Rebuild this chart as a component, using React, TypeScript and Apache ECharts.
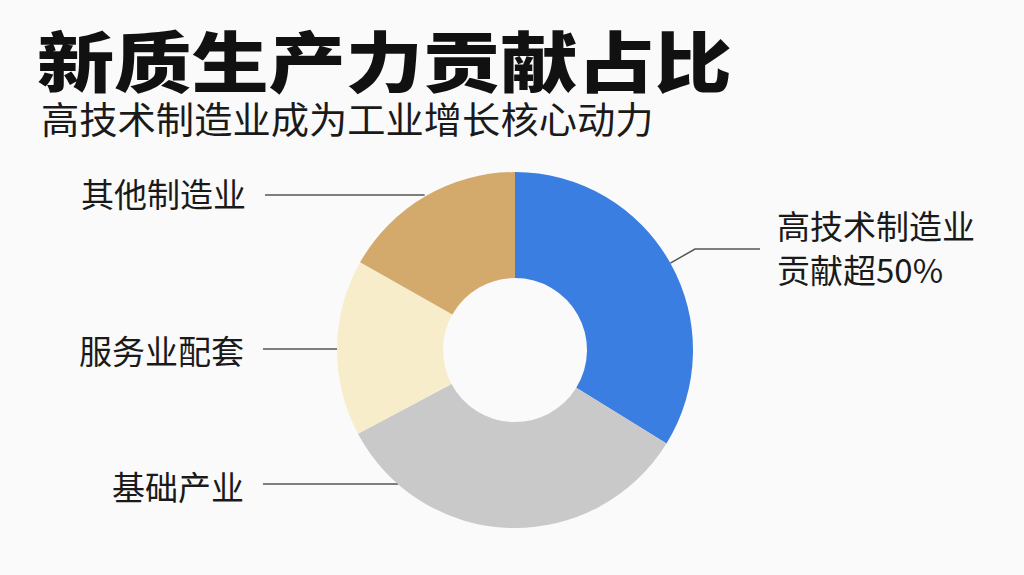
import React, { useEffect, useRef } from "react";
import * as echarts from "echarts";

// ---- data ----
const categories = ["高技术制造业", "基础产业", "服务业配套", "其他制造业"];
const shares = [33.8, 33.4, 16.0, 16.8];
const notes = ["贡献超50%", "", "", ""];
const colors = ["#3a7ee2", "#c9c9c9", "#f8edcb", "#d4aa6c"];

const titleText = "新质生产力贡献占比";
const subtitleText = "高技术制造业成为工业增长核心动力";

// ---- layout (styling only) ----
const CENTER: [number, number] = [515, 350];
const R_IN = 72;
const R_OUT = 178;
const LABEL_LAYOUT = [
  { angle: 29.2, elbow: [695, 249], end: [760, 249], x: 777, y: 247, align: "left" },
  { angle: -131, elbow: null, end: [263, 484], x: 244, y: 486, align: "right" },
  { angle: 179.5, elbow: null, end: [263, 349], x: 244, y: 350, align: "right" },
  { angle: 120.5, elbow: null, end: [265, 195], x: 246, y: 193, align: "right" },
];

const FONT = '"Noto Sans CJK SC", "Noto Sans", sans-serif';

export default function App() {
  const ref = useRef<HTMLDivElement>(null);

  useEffect(() => {
    document.body.style.margin = "0";
    if (!ref.current) return;
    const chart = echarts.init(ref.current, null, { renderer: "svg" });

    const data = categories.map((name, i) => ({
      name,
      value: shares[i],
      itemStyle: { color: colors[i] },
    }));

    chart.setOption({
      animation: false,
      backgroundColor: "#fafafa",
      graphic: [
        {
          type: "text",
          x: 37,
          y: 26,
          scaleX: 1.17,
          silent: true,
          style: {
            text: titleText,
            fontFamily: FONT,
            fontSize: 66,
            fontWeight: 900,
            fill: "#111111",
            verticalAlign: "top",
          },
        },
        {
          type: "text",
          x: 41,
          y: 99,
          scaleX: 1.035,
          silent: true,
          style: {
            text: subtitleText,
            fontFamily: FONT,
            fontSize: 37,
            fontWeight: "normal",
            fill: "#1a1a1a",
            verticalAlign: "top",
          },
        },
      ],
      series: [
        {
          type: "pie",
          center: CENTER,
          radius: [R_IN, R_OUT],
          startAngle: 90,
          clockwise: true,
          silent: true,
          data,
          label: {
            show: true,
            position: "outside",
            fontFamily: FONT,
            fontSize: 33,
            color: "#1a1a1a",
            lineHeight: 44,
            formatter: (p: any) =>
              notes[p.dataIndex] ? `${p.name}\n${notes[p.dataIndex]}` : p.name,
          },
          labelLine: {
            show: true,
            smooth: false,
            lineStyle: { color: "#555555", width: 1.5 },
          },
          labelLayout: (params: any) => {
            const L = LABEL_LAYOUT[params.dataIndex];
            const a = (L.angle * Math.PI) / 180;
            const anchor = [
              CENTER[0] + R_OUT * Math.cos(a),
              CENTER[1] - R_OUT * Math.sin(a),
            ];
            if (!L.elbow) anchor[1] = L.end[1];
            const pts = L.elbow
              ? [anchor, L.elbow, L.end]
              : [anchor, [(anchor[0] + L.end[0]) / 2, L.end[1]], L.end];
            return {
              x: L.x,
              y: L.y,
              align: L.align,
              verticalAlign: "middle",
              labelLinePoints: pts,
            };
          },
        },
      ],
    });

    return () => chart.dispose();
  }, []);

  return <div ref={ref} style={{ width: 1024, height: 575 }} />;
}
